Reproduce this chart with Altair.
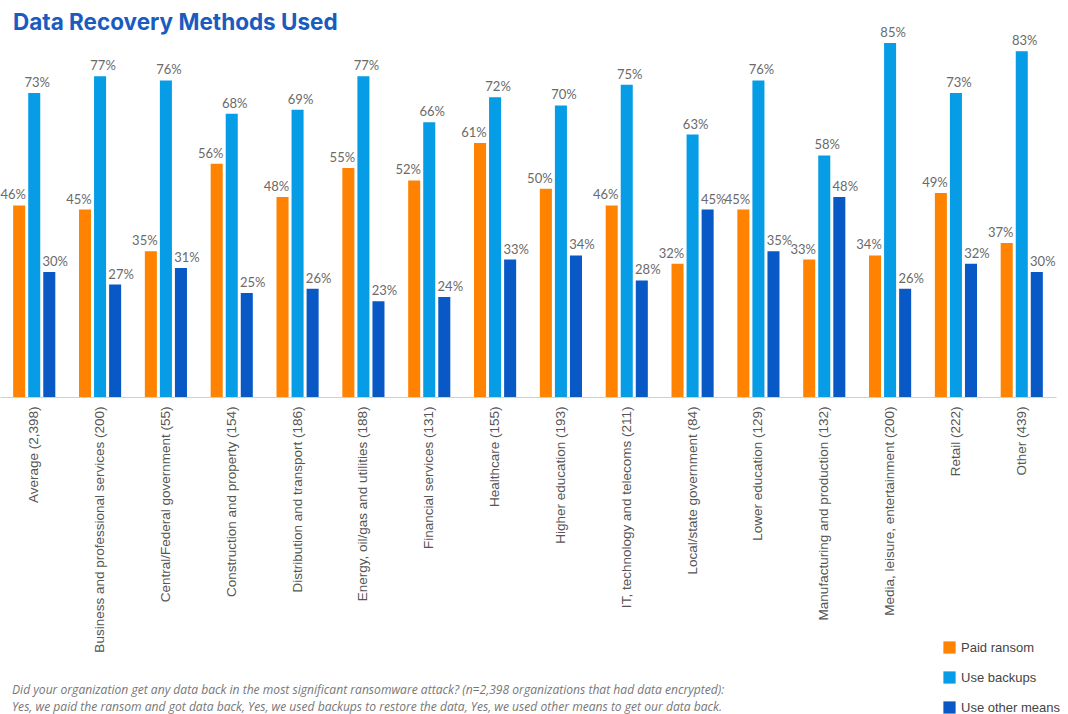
import altair as alt
import pandas as pd

title_text = "Data Recovery Methods Used"
categories = [
    "Average (2,398)",
    "Business and professional services (200)",
    "Central/Federal government (55)",
    "Construction and property (154)",
    "Distribution and transport (186)",
    "Energy, oil/gas and utilities (188)",
    "Financial services (131)",
    "Healthcare (155)",
    "Higher education (193)",
    "IT, technology and telecoms (211)",
    "Local/state government (84)",
    "Lower education (129)",
    "Manufacturing and production (132)",
    "Media, leisure, entertainment (200)",
    "Retail (222)",
    "Other (439)",
]
series = ["Paid ransom", "Use backups", "Use other means"]
paid = [46, 45, 35, 56, 48, 55, 52, 61, 50, 46, 32, 45, 33, 34, 49, 37]
backups = [73, 77, 76, 68, 69, 77, 66, 72, 70, 75, 63, 76, 58, 85, 73, 83]
other = [30, 27, 31, 25, 26, 23, 24, 33, 34, 28, 45, 35, 48, 26, 32, 30]
colors = ["#FF8200", "#069DE6", "#0859C6"]

footer_lines = [
    "Did your organization get any data back in the most significant ransomware attack? (n=2,398 organizations that had data encrypted):",
    "Yes, we paid the ransom and got data back, Yes, we used backups to restore the data, Yes, we used other means to get our data back.",
]

rows = []
for s, vals in zip(series, [paid, backups, other]):
    for c, v in zip(categories, vals):
        rows.append({"category": c, "series": s, "value": v, "label": f"{v}%"})
df = pd.DataFrame(rows)

x_enc = alt.X(
    "category:N",
    sort=categories,
    scale=alt.Scale(paddingInner=0.36, paddingOuter=0.2),
    axis=alt.Axis(
        title=None,
        labelAngle=-90,
        ticks=False,
        domainColor="#d0d0d0",
        labelFont="Liberation Sans",
        labelFontSize=13.5,
        labelColor="#555555",
        labelPadding=9,
        labelLimit=400,
    ),
)
xoff = alt.XOffset("series:N", sort=series, scale=alt.Scale(paddingInner=0.2, paddingOuter=0))
y_enc = alt.Y("value:Q", scale=alt.Scale(domain=[0, 85], nice=False), axis=None)

base = alt.Chart(df)

bars = base.mark_bar().encode(
    x=x_enc,
    xOffset=xoff,
    y=y_enc,
    color=alt.Color(
        "series:N",
        sort=series,
        scale=alt.Scale(domain=series, range=colors),
        legend=alt.Legend(
            title=None,
            orient="none",
            legendX=943,
            legendY=598,
            symbolType="square",
            symbolSize=150,
            symbolStrokeWidth=0,
            labelFont="Liberation Sans",
            labelFontSize=13,
            labelColor="#444444",
            rowPadding=16,
            labelOffset=5,
        ),
    ),
)

dxs = [-6, 3, 6]
text_layers = []
for s, dx in zip(series, dxs):
    text_layers.append(
        base.transform_filter(alt.datum.series == s)
        .mark_text(
            baseline="bottom",
            dy=-3,
            dx=dx,
            font="Lato",
            fontSize=13,
            color="#6a6a6a",
        )
        .encode(x=x_enc, xOffset=xoff, y=y_enc, text="label:N")
    )

footer = (
    alt.Chart(pd.DataFrame({"t": ["\n".join(footer_lines)]}))
    .mark_text(
        align="left",
        baseline="middle",
        lineBreak="\n",
        lineHeight=17,
        font="Open Sans",
        fontStyle="italic",
        fontSize=12.1,
        color="#777777",
    )
    .encode(x=alt.value(12), y=alt.value(647), text="t:N")
)

title = (
    alt.Chart(pd.DataFrame({"t": [title_text]}))
    .mark_text(
        align="left",
        baseline="alphabetic",
        font="Inter",
        fontSize=22.5,
        fontWeight="bold",
        color="#1A5BC0",
    )
    .encode(x=alt.value(13), y=alt.value(-13), text="t:N")
)

chart = (
    alt.layer(bars, *text_layers, footer, title)
    .properties(
        width=1056,
        height=354,
        autosize=alt.AutoSizeParams(type="none"),
        padding={"left": 0, "top": 43, "right": 12, "bottom": 317},
    )
    .configure_view(stroke=None)
)

chart.save("out.html", embed_options={"renderer": "svg", "actions": False})
